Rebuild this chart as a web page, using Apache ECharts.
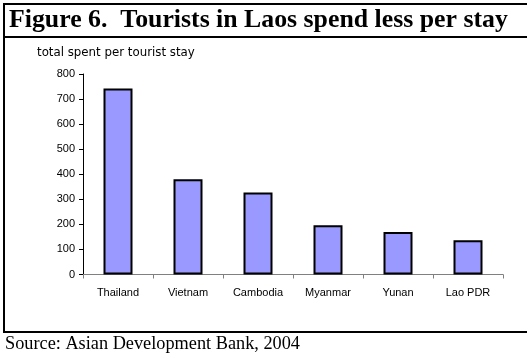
<!DOCTYPE html>
<html>
<head>
<meta charset="utf-8">
<script src="https://cdn.jsdelivr.net/npm/echarts@6/dist/echarts.min.js"></script>
<style>
  html, body { margin: 0; padding: 0; background: #fff; }
  #chart { width: 527px; height: 356px; }
</style>
</head>
<body>
<div id="chart"></div>
<script>
// Average total spend per tourist stay, by destination
const countries = ['Thailand', 'Vietnam', 'Cambodia', 'Myanmar', 'Yunan', 'Lao PDR'];
const spendPerStay = [742, 380, 327, 197, 170, 137];
const yTicks = { min: 0, max: 800, interval: 100 };

const titleText = 'Figure 6.  Tourists in Laos spend less per stay';
const axisCaption = 'total spent per tourist stay';
const sourceText = 'Source: Asian Development Bank, 2004';

const chart = echarts.init(document.getElementById('chart'), null, { renderer: 'canvas' });

chart.setOption({
  animation: false,
  backgroundColor: '#ffffff',
  grid: { left: 83, right: 24, top: 74, bottom: 81.5, containLabel: false },
  xAxis: {
    type: 'category',
    data: countries,
    axisLine: { lineStyle: { color: '#808080', width: 1 } },
    axisTick: { show: true, length: 4, lineStyle: { color: '#808080' } },
    axisLabel: {
      color: '#000', fontFamily: 'Liberation Sans, Arial, sans-serif',
      fontSize: 11, margin: 13, interval: 0
    },
    splitLine: { show: false }
  },
  yAxis: {
    type: 'value',
    min: yTicks.min, max: yTicks.max, interval: yTicks.interval,
    axisLine: { show: true, lineStyle: { color: '#000', width: 1 } },
    axisTick: { show: true, length: 4, lineStyle: { color: '#000' } },
    axisLabel: {
      color: '#000', fontFamily: 'Liberation Sans, Arial, sans-serif',
      fontSize: 11, margin: 8
    },
    splitLine: { show: false }
  },
  series: [{
    type: 'bar',
    data: spendPerStay,
    barWidth: 29,
    itemStyle: { color: '#9999ff', borderColor: '#000', borderWidth: 2 }
  }],
  graphic: [
    // frame
    { type: 'line', shape: { x1: 4, y1: 4, x2: 527, y2: 4 }, style: { stroke: '#000', lineWidth: 2 } },
    { type: 'line', shape: { x1: 4, y1: 37, x2: 527, y2: 37 }, style: { stroke: '#000', lineWidth: 2 } },
    { type: 'line', shape: { x1: 4, y1: 3, x2: 4, y2: 333 }, style: { stroke: '#000', lineWidth: 2 } },
    { type: 'line', shape: { x1: 3, y1: 332, x2: 527, y2: 332 }, style: { stroke: '#000', lineWidth: 2 } },
    // heading
    { type: 'text', left: 9, top: 7, style: {
        text: titleText, fill: '#000',
        font: 'bold 25.8px "Liberation Serif", "Times New Roman", serif' } },
    // value axis caption
    { type: 'text', left: 37, top: 47, style: {
        text: axisCaption, fill: '#000',
        font: '11.8px "DejaVu Sans", sans-serif' } },
    // source note
    { type: 'text', left: 5, top: 335, style: {
        text: sourceText, fill: '#000',
        font: '18.3px "Liberation Serif", "Times New Roman", serif' } }
  ]
});
</script>
</body>
</html>
